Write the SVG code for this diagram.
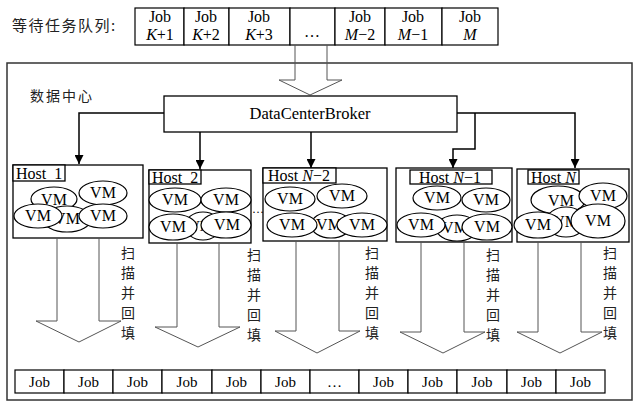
<svg xmlns="http://www.w3.org/2000/svg" width="635" height="402" viewBox="0 0 635 402">
<defs>
<marker id="ah" viewBox="0 0 10 10" refX="10" refY="5" markerWidth="9" markerHeight="9" markerUnits="userSpaceOnUse" orient="auto">
<path d="M0,0 L10,5 L0,10 z" fill="#000"/>
</marker>
</defs>
<style>
.t{font-family:"Liberation Serif",serif;font-size:16px;fill:#000}
.c{font-family:"Noto Sans CJK SC","Noto Sans CJK TC",sans-serif;font-size:14px;fill:#222}
.m{text-anchor:middle}
.box{fill:#fff;stroke:#000;stroke-width:1.3}
.cell{fill:#fff;stroke:#000;stroke-width:1.2}
.vm{fill:#fff;stroke:#000;stroke-width:1.2}
.big{fill:none;stroke:#555;stroke-width:1}
.con{fill:none;stroke:#000;stroke-width:1.5}
</style>
<rect x="0" y="0" width="635" height="402" fill="#fff"/>

<g id="queue-top">
<text class="c" x="12" y="31" style="font-size:15px;letter-spacing:1.5px">等待任务队列:</text>
<rect class="cell" x="135" y="8" width="49" height="37"/>
<rect class="cell" x="184" y="8" width="45" height="37"/>
<rect class="cell" x="229" y="8" width="61" height="37"/>
<rect class="cell" x="290" y="8" width="45" height="37"/>
<rect class="cell" x="335" y="8" width="50" height="37"/>
<rect class="cell" x="385" y="8" width="57" height="37"/>
<rect class="cell" x="442" y="8" width="56" height="37"/>
<g class="t m">
<text x="160" y="22">Job</text><text x="160" y="40"><tspan font-style="italic">K</tspan>+1</text>
<text x="206" y="22">Job</text><text x="206" y="40"><tspan font-style="italic">K</tspan>+2</text>
<text x="259" y="22">Job</text><text x="259" y="40"><tspan font-style="italic">K</tspan>+3</text>
<text x="312" y="37">…</text>
<text x="360" y="22">Job</text><text x="360" y="40"><tspan font-style="italic">M</tspan>−2</text>
<text x="413" y="22">Job</text><text x="413" y="40"><tspan font-style="italic">M</tspan>−1</text>
<text x="470" y="22">Job</text><text x="470" y="40" font-style="italic">M</text>
</g>
</g>

<g id="datacenter">
<rect x="7" y="63" width="625" height="337" fill="none" stroke="#333" stroke-width="1.5"/>
<text class="c" x="30" y="101" style="letter-spacing:2px">数据中心</text>
</g>

<g id="input-arrow">
<path class="big" d="M295,45 V80 H279 L310,95 L342,80 H327 V45" stroke="#333"/>
</g>

<g id="broker">
<rect class="box" x="164" y="96" width="293" height="36"/>
<text class="t m" x="310" y="119" style="font-size:16.5px">DataCenterBroker</text>
</g>

<g id="connectors">
<path class="con" d="M164,113 H79 V164" marker-end="url(#ah)"/>
<path class="con" d="M200,132 V169" marker-end="url(#ah)"/>
<path class="con" d="M311,132 V168" marker-end="url(#ah)"/>
<path class="con" d="M457,113 H575 V168" marker-end="url(#ah)"/>
<path class="con" d="M475,113 V149 H453 V168" marker-end="url(#ah)"/>
</g>

<g id="host1">
<rect class="box" x="13" y="165" width="130" height="73"/>
<rect class="box" x="13" y="165" width="52" height="16"/>
<text class="t" x="16" y="179" xml:space="preserve">Host  1</text>
<ellipse class="vm" cx="54" cy="199" rx="23" ry="12"/><text class="t m" x="54" y="205">VM</text>
<ellipse class="vm" cx="67" cy="219" rx="24" ry="13"/><text class="t m" x="67" y="224">VM</text>
<ellipse class="vm" cx="103" cy="193" rx="24" ry="12"/><text class="t m" x="103" y="198">VM</text>
<ellipse class="vm" cx="38" cy="216" rx="24" ry="12"/><text class="t m" x="38" y="221">VM</text>
<ellipse class="vm" cx="103" cy="216" rx="24" ry="12"/><text class="t m" x="103" y="221">VM</text>
</g>

<g id="host2">
<rect class="box" x="149" y="170" width="102" height="73"/>
<rect class="box" x="149" y="170" width="52" height="14"/>
<text class="t" x="152" y="183" xml:space="preserve">Host  2</text>
<ellipse class="vm" cx="203" cy="226" rx="18" ry="14"/><text class="t m" x="201" y="231" style="font-size:14px">VM</text>
<ellipse class="vm" cx="175" cy="200" rx="26" ry="12"/><text class="t m" x="175" y="205">VM</text>
<ellipse class="vm" cx="226" cy="200" rx="25" ry="12"/><text class="t m" x="226" y="205">VM</text>
<ellipse class="vm" cx="173" cy="227" rx="24" ry="13"/><text class="t m" x="173" y="232">VM</text>
<ellipse class="vm" cx="226" cy="225" rx="25" ry="13"/><text class="t m" x="227" y="230">VM</text>
</g>

<g id="dots">
<text class="t" x="252" y="213" style="font-size:12px">……</text>
</g>

<g id="hostN-2">
<rect class="box" x="263" y="168" width="124" height="73"/>
<rect class="box" x="263" y="168" width="73" height="15"/>
<text class="t" x="268" y="181">Host <tspan font-style="italic">N</tspan>−2</text>
<ellipse class="vm" cx="290" cy="199" rx="25" ry="12"/><text class="t m" x="290" y="204">VM</text>
<ellipse class="vm" cx="342" cy="196" rx="25" ry="12"/><text class="t m" x="342" y="201">VM</text>
<ellipse class="vm" cx="331" cy="225" rx="20" ry="13"/><text class="t m" x="329" y="230">VM</text>
<ellipse class="vm" cx="292" cy="225" rx="25" ry="12"/><text class="t m" x="292" y="230">VM</text>
<ellipse class="vm" cx="362" cy="225" rx="25" ry="12"/><text class="t m" x="362" y="230">VM</text>
</g>

<g id="hostN-1">
<rect class="box" x="396" y="168" width="116" height="74"/>
<rect class="box" x="410" y="170" width="82" height="14"/>
<text class="t" x="419" y="183">Host <tspan font-style="italic">N</tspan>−1</text>
<ellipse class="vm" cx="437" cy="198" rx="24" ry="12"/><text class="t m" x="437" y="203">VM</text>
<ellipse class="vm" cx="486" cy="200" rx="24" ry="12"/><text class="t m" x="486" y="205">VM</text>
<ellipse class="vm" cx="457" cy="228" rx="21" ry="13"/><text class="t m" x="455" y="233">VM</text>
<ellipse class="vm" cx="421" cy="225" rx="24" ry="12"/><text class="t m" x="421" y="230">VM</text>
<ellipse class="vm" cx="487" cy="227" rx="25" ry="13"/><text class="t m" x="487" y="232">VM</text>
</g>

<g id="hostN">
<rect class="box" x="517" y="169" width="112" height="73"/>
<rect class="box" x="528" y="170" width="51" height="14"/>
<text class="t" x="531" y="183">Host <tspan font-style="italic">N</tspan></text>
<ellipse class="vm" cx="558" cy="200" rx="27" ry="14"/><text class="t m" x="561" y="206">VM</text>
<ellipse class="vm" cx="603" cy="196" rx="24" ry="13"/><text class="t m" x="603" y="201">VM</text>
<ellipse class="vm" cx="566" cy="222" rx="20" ry="15"/><text class="t m" x="566" y="227">VM</text>
<ellipse class="vm" cx="538" cy="225" rx="24" ry="13"/><text class="t m" x="538" y="230">VM</text>
<ellipse class="vm" cx="598" cy="221" rx="27" ry="17"/><text class="t m" x="598" y="226">VM</text>
</g>

<g id="out-arrows">
<path class="big" d="M57,238 V321 H36 L79,342 L121,321 H99 V238"/>
<path class="big" d="M177,243 V327 H155 L198,347 L240,327 H219 V243"/>
<path class="big" d="M296,241 V331 H275 L317,353 L360,331 H339 V241"/>
<path class="big" d="M421,242 V332 H400 L443,353 L485,332 H464 V242"/>
<path class="big" d="M538,242 V332 H517 L560,353 L602,332 H581 V242"/>
</g>

<g id="scan-labels" class="c m">
<text x="128" y="258">扫</text><text x="128" y="278">描</text><text x="128" y="298">并</text><text x="128" y="318">回</text><text x="128" y="338">填</text>
<text x="254" y="260">扫</text><text x="254" y="280">描</text><text x="254" y="300">并</text><text x="254" y="320">回</text><text x="254" y="340">填</text>
<text x="372" y="258">扫</text><text x="372" y="278">描</text><text x="372" y="298">并</text><text x="372" y="318">回</text><text x="372" y="338">填</text>
<text x="493" y="260">扫</text><text x="493" y="280">描</text><text x="493" y="300">并</text><text x="493" y="320">回</text><text x="493" y="340">填</text>
<text x="610" y="258">扫</text><text x="610" y="278">描</text><text x="610" y="298">并</text><text x="610" y="318">回</text><text x="610" y="338">填</text>
</g>

<g id="queue-bottom">
<rect class="cell" x="15" y="370" width="49" height="23"/>
<rect class="cell" x="64" y="370" width="49" height="23"/>
<rect class="cell" x="113" y="370" width="49" height="23"/>
<rect class="cell" x="162" y="370" width="50" height="23"/>
<rect class="cell" x="212" y="370" width="49" height="23"/>
<rect class="cell" x="261" y="370" width="49" height="23"/>
<rect class="cell" x="310" y="370" width="49" height="23"/>
<rect class="cell" x="359" y="370" width="49" height="23"/>
<rect class="cell" x="408" y="370" width="49" height="23"/>
<rect class="cell" x="457" y="370" width="50" height="23"/>
<rect class="cell" x="507" y="370" width="49" height="23"/>
<rect class="cell" x="556" y="370" width="49" height="23"/>
<g class="t m" style="font-size:15px">
<text x="39.5" y="387">Job</text><text x="88.5" y="387">Job</text><text x="137.5" y="387">Job</text><text x="187" y="387">Job</text><text x="236.5" y="387">Job</text><text x="285.5" y="387">Job</text>
<text x="334.5" y="387">…</text>
<text x="383.5" y="387">Job</text><text x="432.5" y="387">Job</text><text x="482" y="387">Job</text><text x="531.5" y="387">Job</text><text x="580.5" y="387">Job</text>
</g>
</g>
</svg>
